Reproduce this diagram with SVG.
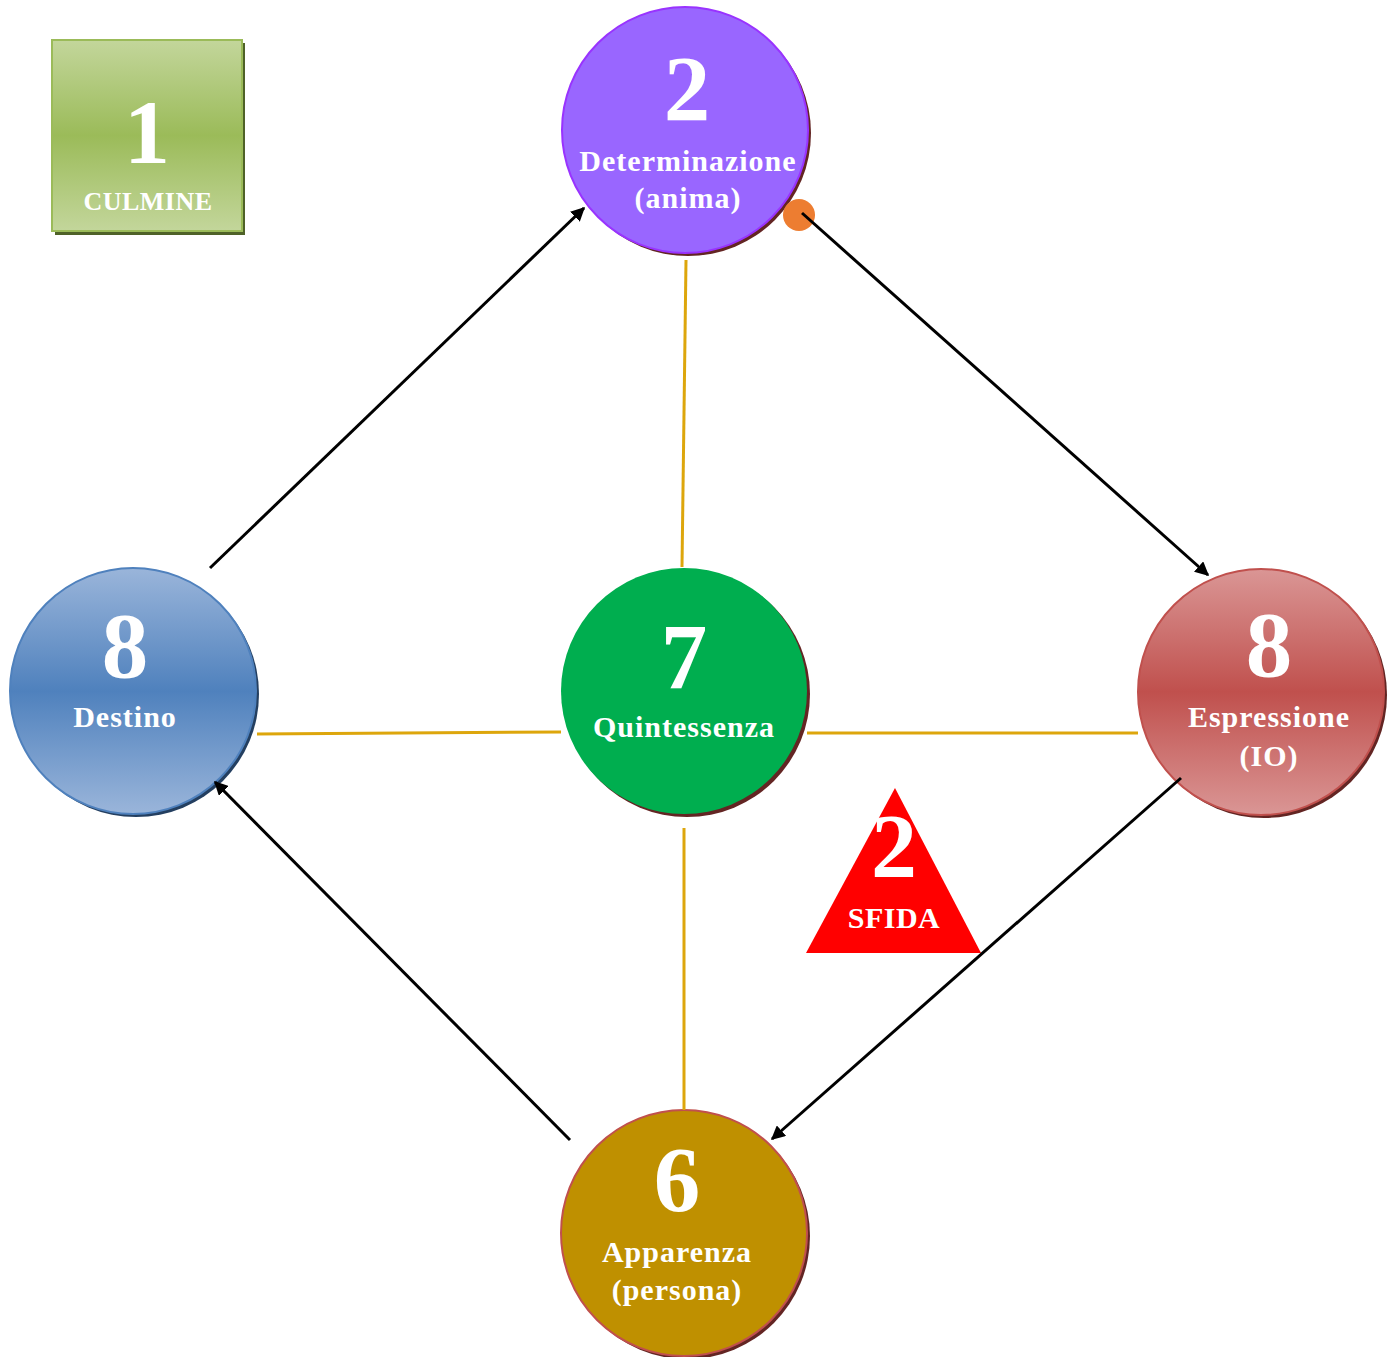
<svg xmlns="http://www.w3.org/2000/svg" width="1394" height="1357" viewBox="0 0 1394 1357">
<defs>
<linearGradient id="gBlue" x1="0" y1="0" x2="0" y2="1">
<stop offset="0" stop-color="#9AB5DA"/><stop offset="0.5" stop-color="#4F81BD"/><stop offset="1" stop-color="#9AB5DA"/>
</linearGradient>
<linearGradient id="gRed" x1="0" y1="0" x2="0" y2="1">
<stop offset="0" stop-color="#DA9695"/><stop offset="0.5" stop-color="#C0504D"/><stop offset="1" stop-color="#DA9695"/>
</linearGradient>
<linearGradient id="gGreen" x1="0" y1="0" x2="0" y2="1">
<stop offset="0" stop-color="#C3D69B"/><stop offset="0.5" stop-color="#9BBB59"/><stop offset="1" stop-color="#C3D69B"/>
</linearGradient>
<marker id="arrB" viewBox="0 0 10 10" refX="9" refY="5" markerWidth="14" markerHeight="14" orient="auto" markerUnits="userSpaceOnUse">
<path d="M0,0 L10,5 L0,10 z" fill="#000"/>
</marker>
</defs>
<style>
text{font-family:"Liberation Serif","Times New Roman",serif;font-weight:bold;fill:#fff;text-anchor:middle}
.big{font-size:93px}
.lbl{font-size:30px;letter-spacing:1px}
.gold{stroke:#DDA60C;stroke-width:3;fill:none}
.arrow{stroke:#000;stroke-width:3;fill:none;marker-end:url(#arrB)}
</style>
<g id="culmine">
<rect x="55" y="43" width="190" height="192" fill="#4F6228"/>
<rect x="52" y="40" width="190" height="191" fill="url(#gGreen)" stroke="#9BBB59" stroke-width="2"/>
<text x="147" y="163" style="font-size:92px">1</text>
<text x="148" y="210" style="font-size:26px;letter-spacing:0.5px">CULMINE</text>
</g>
<g id="determinazione">
<circle cx="688" cy="133" r="123" fill="#632523"/>
<circle cx="685" cy="130" r="123" fill="#9966FF" stroke="#9933FF" stroke-width="2"/>
<text class="big" x="687" y="120">2</text>
<text class="lbl" x="688" y="171">Determinazione</text>
<text class="lbl" x="688" y="208">(anima)</text>
<circle cx="799" cy="215" r="16" fill="#ED7D31"/>
</g>
<g id="destino">
<circle cx="136" cy="694" r="123" fill="#243F60"/>
<circle cx="133" cy="691" r="123" fill="url(#gBlue)" stroke="#4F81BD" stroke-width="2"/>
<text class="big" x="125" y="677">8</text>
<text class="lbl" x="125" y="727">Destino</text>
</g>
<g id="quintessenza">
<circle cx="687" cy="694" r="123" fill="#632523"/>
<circle cx="684" cy="691" r="123" fill="#00AE4F"/>
<text class="big" x="684" y="688">7</text>
<text class="lbl" x="684" y="737">Quintessenza</text>
</g>
<g id="espressione">
<circle cx="1264" cy="695" r="123" fill="#632523"/>
<circle cx="1261" cy="692" r="123" fill="url(#gRed)" stroke="#C0504D" stroke-width="2"/>
<text class="big" x="1269" y="676">8</text>
<text class="lbl" x="1269" y="727">Espressione</text>
<text class="lbl" x="1269" y="766">(IO)</text>
</g>
<g id="apparenza">
<circle cx="687" cy="1236" r="123" fill="#632523"/>
<circle cx="684" cy="1233" r="123" fill="#BF9000" stroke="#C0504D" stroke-width="2"/>
<text class="big" x="677" y="1211">6</text>
<text class="lbl" x="677" y="1262">Apparenza</text>
<text class="lbl" x="677" y="1300">(persona)</text>
</g>
<g id="sfida">
<polygon points="895,788 806,953 981,953" fill="#FF0000"/>
<text x="894" y="877" style="font-size:92px">2</text>
<text x="894" y="928" style="font-size:30px;letter-spacing:0.5px">SFIDA</text>
</g>
<g id="connectors">
<line class="gold" x1="686" y1="260" x2="682" y2="567"/>
<line class="gold" x1="257" y1="734" x2="561" y2="732"/>
<line class="gold" x1="807" y1="733" x2="1138" y2="733"/>
<line class="gold" x1="684" y1="828" x2="684" y2="1110"/>
<line class="arrow" x1="210" y1="568" x2="584" y2="208"/>
<line class="arrow" x1="802" y1="213" x2="1208" y2="575"/>
<line class="arrow" x1="1181" y1="778" x2="772" y2="1139"/>
<line class="arrow" x1="570" y1="1140" x2="215" y2="782"/>
</g>
</svg>
